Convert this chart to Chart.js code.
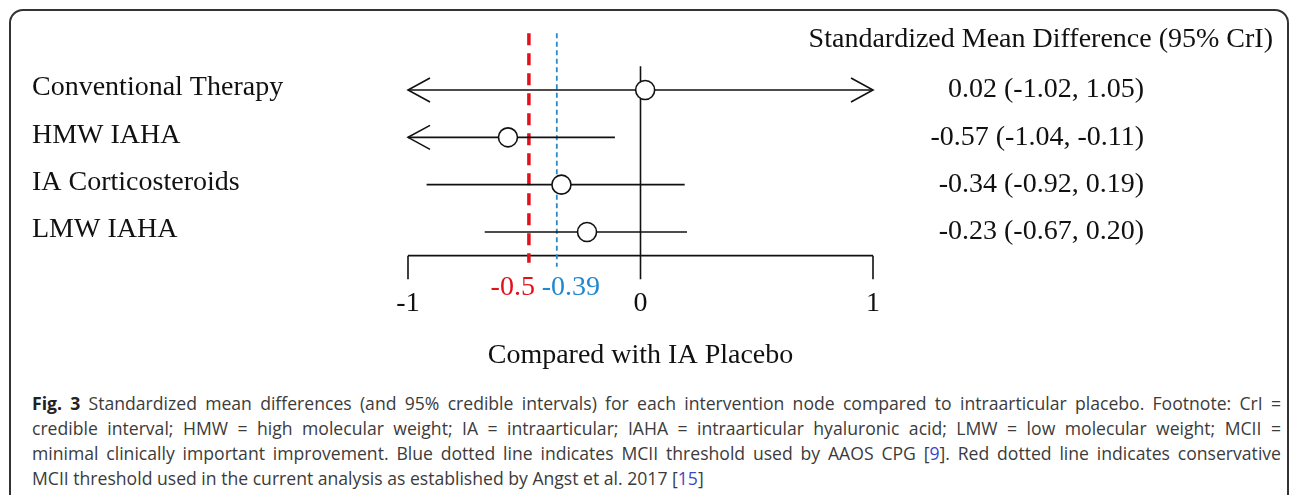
<!DOCTYPE html>
<html>
<head>
<meta charset="utf-8">
<script src="https://cdn.jsdelivr.net/npm/chart.js@4.4.1/dist/chart.umd.min.js"></script>
<style>
    html, body { margin: 0; padding: 0; background: #fff; }
    body { width: 1292px; height: 495px; overflow: hidden; position: relative; }
    #frame {
        position: absolute; left: 9px; top: 9px; width: 1280px; height: 530px;
        border: 2px solid #333; border-radius: 14px; box-sizing: border-box;
    }
    #chart { position: absolute; left: 0; top: 0; }
    #caption {
        position: absolute; left: 32px; top: 391px; width: 1249px;
        font-family: "Open Sans", sans-serif; font-size: 17.6px; line-height: 25px; color: #3b3b3b;
    }
    #caption div { text-align: justify; text-align-last: justify; }
    #caption div.last { text-align-last: left; }
    #caption b { color: #222; }
    #caption .ref { color: #3a48c8; }
</style>
</head>
<body>
<div id="frame"></div>
<canvas id="chart" width="1292" height="380"></canvas>
<div id="caption">
    <div><b>Fig. 3</b> Standardized mean differences (and 95% credible intervals) for each intervention node compared to intraarticular placebo. Footnote: CrI =</div>
    <div>credible interval; HMW = high molecular weight; IA = intraarticular; IAHA = intraarticular hyaluronic acid; LMW = low molecular weight; MCII =</div>
    <div>minimal clinically important improvement. Blue dotted line indicates MCII threshold used by AAOS CPG [<span class="ref">9</span>]. Red dotted line indicates conservative</div>
    <div class="last">MCII threshold used in the current analysis as established by Angst et al. 2017 [<span class="ref">15</span>]</div>
</div>
<script>
const rows = ["Conventional Therapy", "HMW IAHA", "IA Corticosteroids", "LMW IAHA"];
const smd = [0.02, -0.57, -0.34, -0.23];
const lowerCrI = [-1.02, -1.04, -0.92, -0.67];
const upperCrI = [1.05, -0.11, 0.19, 0.20];
const smdText = ["0.02 (-1.02, 1.05)", "-0.57 (-1.04, -0.11)", "-0.34 (-0.92, 0.19)", "-0.23 (-0.67, 0.20)"];
const xTicks = [-1, 0, 1];
// where the two MCII lines sit in the figure, and their labels
const mciiPos = [-0.48, -0.36];
const mciiText = ["-0.5", "-0.39"];

const ink = "#111";
const serif = "28px 'Liberation Serif', 'Times New Roman', serif";

const forestPlugin = {
    id: "forest",
    beforeDatasetsDraw(chart) {
        const { ctx, scales: { x, y } } = chart;
        ctx.save();

        // bracket axis + zero line
        const axisY = y.getPixelForValue(4.5);
        const tickEnd = y.getPixelForValue(5);
        ctx.strokeStyle = ink;
        ctx.lineWidth = 1.6;
        ctx.beginPath();
        ctx.moveTo(x.getPixelForValue(-1), axisY);
        ctx.lineTo(x.getPixelForValue(1), axisY);
        xTicks.forEach(t => {
            const px = x.getPixelForValue(t);
            ctx.moveTo(px, t === 0 ? y.getPixelForValue(0.5) : axisY);
            ctx.lineTo(px, tickEnd);
        });
        ctx.stroke();

        // MCII thresholds
        const top = y.getPixelForValue(-0.2);
        ctx.strokeStyle = "#e3101c";
        ctx.lineWidth = 3.5;
        ctx.setLineDash([12, 8]);
        ctx.beginPath();
        ctx.moveTo(x.getPixelForValue(mciiPos[0]), top);
        ctx.lineTo(x.getPixelForValue(mciiPos[0]), axisY + 7);
        ctx.stroke();

        ctx.strokeStyle = "#2a8ac4";
        ctx.lineWidth = 1.8;
        ctx.setLineDash([5, 3.5]);
        ctx.beginPath();
        ctx.moveTo(x.getPixelForValue(mciiPos[1]), top);
        ctx.lineTo(x.getPixelForValue(mciiPos[1]), axisY + 11);
        ctx.stroke();
        ctx.setLineDash([]);

        // texts
        ctx.font = serif;
        ctx.textBaseline = "middle";
        ctx.fillStyle = ink;
        ctx.textAlign = "center";
        xTicks.forEach(t => ctx.fillText(String(t), x.getPixelForValue(t), tickEnd + 24));
        ctx.fillText("Compared with IA Placebo", x.getPixelForValue(0), tickEnd + 76);

        ctx.fillStyle = "#e3101c";
        ctx.textAlign = "right";
        ctx.fillText(mciiText[0], x.getPixelForValue(mciiPos[0]) + 6, tickEnd + 8);
        ctx.fillStyle = "#1f88cf";
        ctx.textAlign = "left";
        ctx.fillText(mciiText[1], x.getPixelForValue(mciiPos[1]) - 15, tickEnd + 8);

        ctx.fillStyle = ink;
        ctx.textAlign = "left";
        rows.forEach((r, i) => ctx.fillText(r, 32, y.getPixelForValue(i + 1) - 2));
        ctx.textAlign = "right";
        ctx.fillText("Standardized Mean Difference (95% CrI)", 1273, 40);
        smdText.forEach((s, i) => ctx.fillText(s, 1144, y.getPixelForValue(i + 1)));

        ctx.restore();
    },
    afterDatasetsDraw(chart) {
        const { ctx, chartArea, scales: { x, y } } = chart;
        ctx.save();
        ctx.strokeStyle = ink;
        ctx.lineWidth = 1.6;
        rows.forEach((r, i) => {
            const py = y.getPixelForValue(i + 1);
            ctx.beginPath();
            if (lowerCrI[i] < x.min) {
                ctx.moveTo(chartArea.left + 22, py - 12);
                ctx.lineTo(chartArea.left, py);
                ctx.lineTo(chartArea.left + 22, py + 12);
            }
            if (upperCrI[i] > x.max) {
                ctx.moveTo(chartArea.right - 22, py - 12);
                ctx.lineTo(chartArea.right, py);
                ctx.lineTo(chartArea.right - 22, py + 12);
            }
            ctx.stroke();
        });
        ctx.restore();
    }
};

const intervalSets = rows.map((r, i) => ({
    label: r,
    data: [{ x: lowerCrI[i], y: i + 1 }, { x: upperCrI[i], y: i + 1 }],
    showLine: true,
    borderColor: ink,
    borderWidth: 1.6,
    pointRadius: 0,
    order: 1
}));

new Chart(document.getElementById("chart"), {
    type: "scatter",
    data: {
        datasets: [
            {
                label: "SMD",
                data: smd.map((v, i) => ({ x: v, y: i + 1 })),
                pointRadius: 9.5,
                pointBackgroundColor: "#fff",
                pointBorderColor: ink,
                pointBorderWidth: 1.6,
                clip: false,
                order: 0
            },
            ...intervalSets
        ]
    },
    options: {
        responsive: false,
        animation: false,
        devicePixelRatio: 1,
        events: [],
        layout: {
            padding: { left: 408, right: 419, top: 42.67, bottom: 100.67 }
        },
        scales: {
            x: { type: "linear", min: -1, max: 1, display: false },
            y: { type: "linear", min: 0, max: 5, reverse: true, display: false }
        },
        plugins: {
            legend: { display: false },
            tooltip: { enabled: false }
        }
    },
    plugins: [forestPlugin]
});
</script>
</body>
</html>
